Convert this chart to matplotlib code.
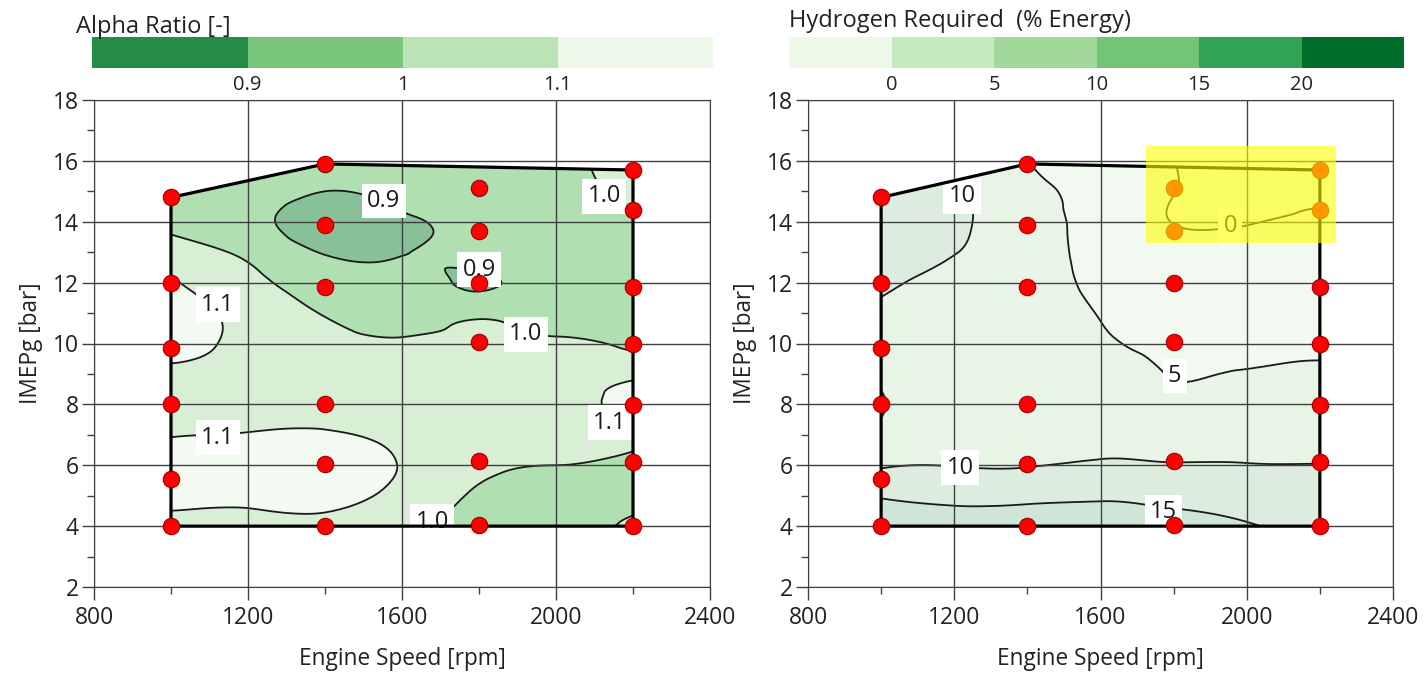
import numpy as np
import matplotlib
matplotlib.use('Agg')
from matplotlib import pyplot as plt
import matplotlib.tri as mtri
from matplotlib.colors import ListedColormap, BoundaryNorm
from matplotlib.cm import ScalarMappable
from matplotlib.patches import Polygon, Rectangle

plt.rcParams['font.family'] = ['Open Sans', 'DejaVu Sans']

# map grid
speed_grid = [1000, 1200, 1400, 1600, 1800, 2000, 2200]
imep_grid = [4, 5, 6, 7, 8, 9, 10, 11, 12, 13, 14, 15, 16]

# rows = imep 4..16, cols = speed 1000..2200
alpha_ratio = [
    [1.06, 1.07, 1.07, 1.02, 0.97, 0.96, 1.02],
    [1.13, 1.12, 1.13, 1.07, 0.99, 0.975, 0.97],
    [1.14, 1.14, 1.15, 1.095, 1.02, 1.00, 0.98],
    [1.095, 1.105, 1.11, 1.08, 1.05, 1.05, 1.04],
    [1.05, 1.06, 1.07, 1.06, 1.06, 1.08, 1.13],
    [1.08, 1.07, 1.05, 1.04, 1.05, 1.05, 1.08],
    [1.13, 1.08, 1.03, 1.01, 1.02, 1.01, 0.98],
    [1.13, 1.07, 0.995, 0.97, 0.98, 0.97, 0.96],
    [1.11, 1.03, 0.95, 0.94, 0.89, 0.95, 0.96],
    [1.04, 0.98, 0.895, 0.895, 0.94, 0.95, 0.97],
    [0.98, 0.93, 0.86, 0.89, 0.93, 0.96, 0.995],
    [0.97, 0.95, 0.90, 0.92, 0.94, 0.97, 1.02],
    [0.97, 0.96, 0.93, 0.94, 0.95, 0.98, 1.03],
]

hydrogen = [
    [20.5, 18.0, 17.5, 17.0, 16.2, 15.3, 13.5],
    [14.5, 13.5, 13.8, 14.4, 13.8, 13.0, 12.0],
    [9.7, 9.9, 9.8, 10.6, 10.3, 10.2, 10.1],
    [9.5, 8.5, 8.5, 8.6, 8.0, 8.0, 8.2],
    [10.2, 8.0, 8.0, 7.6, 5.9, 6.6, 7.0],
    [9.6, 8.0, 7.8, 6.8, 4.9, 5.2, 5.5],
    [9.3, 8.2, 7.8, 5.6, 4.3, 4.2, 4.5],
    [9.6, 8.6, 7.8, 4.8, 3.6, 3.5, 3.6],
    [10.4, 9.3, 7.8, 3.8, 3.0, 2.8, 2.8],
    [11.0, 10.1, 7.5, 3.5, 2.0, 1.5, 1.8],
    [11.5, 10.8, 7.0, 3.5, -0.1, -0.2, 0.8],
    [12.0, 11.0, 6.2, 3.8, 0.1, -1.0, -0.8],
    [12.0, 11.0, 5.0, 4.2, 0.1, -1.0, -1.2],
]

# measured operating points
point_speed = [1000, 1400, 2200, 1800, 2200, 1400, 1800, 1000, 1400, 1800, 2200, 1000, 1800,
               2200, 1000, 1400, 2200, 1000, 1400, 1800, 2200, 1000, 1400, 1800, 2200]
point_imep = [14.8, 15.9, 15.7, 15.1, 14.4, 13.9, 13.7, 12.0, 11.85, 12.0, 11.85, 9.85, 10.05,
              10.0, 8.0, 8.0, 7.97, 5.55, 6.05, 6.15, 6.1, 4.0, 4.0, 4.05, 4.0]

# operating envelope
boundary_speed = [1000, 1400, 2200, 2200, 1000]
boundary_imep = [14.8, 15.9, 15.7, 4.0, 4.0]

alpha_levels = [0.9, 1.0, 1.1]
alpha_bar_colors = ['#248c46', '#78c679', '#bae4b6', '#edf7ea']
alpha_fill_colors = ['#88c09a', '#b0dfb2', '#d8efd5', '#f3faf2']
alpha_label_vals = [0.9, 0.9, 1.0, 1.1, 1.0, 1.1, 1.1, 1.0]
alpha_label_pos = [(1553, 14.69), (1800, 12.43), (2125, 14.83), (1121, 11.28),
                   (1922, 10.3), (1121, 6.91), (2140, 7.4), (1678, 4.15)]

h2_levels = [0, 5, 10, 15, 20]
h2_bar_colors = ['#edf8e9', '#c7e9c0', '#a1d99b', '#74c476', '#31a354', '#006d2c']
h2_fill_colors = ['#f5fbf3', '#f2f9f1', '#e8f4e6', '#dcede0', '#cfe6d7', '#bcd9c6']
h2_label_vals = [10, 5, 0, 10, 15]
h2_label_pos = [(1221, 14.83), (1803, 8.93), (1955, 13.85), (1216, 5.92), (1772, 4.45)]

X, Y = np.meshgrid(speed_grid, imep_grid)
tri = mtri.Triangulation(X.ravel(), Y.ravel())
refiner = mtri.UniformTriRefiner(tri)

fig = plt.figure(figsize=(14.27, 6.85), dpi=100)
W, H = 1427.0, 685.0


def draw_map(ax, z, levels, fills, label_vals, label_pos, fmt):
    tri_f, z_f = refiner.refine_field(np.array(z).ravel(), subdiv=4)
    clip = Polygon(np.column_stack([boundary_speed, boundary_imep]), closed=True,
                   transform=ax.transData)
    cf = ax.tricontourf(tri_f, z_f, levels=levels, colors=fills, extend='both', zorder=1)
    cl = ax.tricontour(tri_f, z_f, levels=levels, colors='#1a1a1a', linewidths=1.3, zorder=2)
    cf.set_clip_path(clip)
    cl.set_clip_path(clip)
    ax.add_patch(Polygon(np.column_stack([boundary_speed, boundary_imep]), closed=True,
                         fill=False, edgecolor='black', lw=2.3, zorder=3))
    for v, (x, y) in zip(label_vals, label_pos):
        ax.text(x, y, fmt % v, ha='center', va='center', fontsize=17, color='#1a1a1a',
                bbox=dict(boxstyle='square,pad=0.22', fc='white', ec='none'), zorder=2.7)
    ax.scatter(point_speed, point_imep, s=140, c='#ff0000', edgecolors='#a00000',
               linewidths=0.8, zorder=4, clip_on=False)

    ax.set_xlim(800, 2400)
    ax.set_ylim(2, 18)
    ax.set_xticks([800, 1200, 1600, 2000, 2400])
    ax.set_xticks([1000, 1400, 1800, 2200], minor=True)
    ax.set_yticks(range(2, 19, 2))
    ax.set_yticks(range(3, 18, 2), minor=True)
    ax.set_axisbelow(False)
    ax.grid(True, which='major', color='#404040', lw=1.0)
    for s in ax.spines.values():
        s.set_color('#404040')
    ax.tick_params(which='major', length=9, width=1.0, color='#404040',
                   labelsize=16.5, labelcolor='#222222')
    ax.tick_params(which='minor', length=5, width=1.0, color='#404040')
    ax.tick_params(axis='x', pad=5)
    ax.tick_params(axis='y', pad=2)
    ax.set_xlabel('Engine Speed [rpm]', fontsize=16.3, color='#222222', labelpad=12)
    ax.set_ylabel('IMEPg [bar]', fontsize=16.3, color='#222222', labelpad=7)


def draw_bar(cax, colors, levels, tick_labels):
    cmap = ListedColormap(colors)
    bounds = [levels[0] - (levels[1] - levels[0])] + levels + [levels[-1] + (levels[1] - levels[0])]
    norm = BoundaryNorm(bounds, cmap.N)
    cb = fig.colorbar(ScalarMappable(norm=norm, cmap=cmap), cax=cax, orientation='horizontal')
    cb.set_ticks(levels)
    cb.set_ticklabels(tick_labels)
    cb.outline.set_visible(False)
    cax.minorticks_off()
    cax.tick_params(which='both', length=0, labelsize=14.5, pad=5, labelcolor='#222222')


ax1 = fig.add_axes([94 / W, 98 / H, 616 / W, 487 / H])
ax2 = fig.add_axes([808 / W, 98 / H, 585 / W, 487 / H])
cax1 = fig.add_axes([92.5 / W, 617 / H, 620 / W, 31 / H])
cax2 = fig.add_axes([789 / W, 617 / H, 615 / W, 31 / H])

draw_map(ax1, alpha_ratio, alpha_levels, alpha_fill_colors, alpha_label_vals, alpha_label_pos, '%.1f')
draw_map(ax2, hydrogen, h2_levels, h2_fill_colors, h2_label_vals, h2_label_pos, '%d')

# highlighted zero-hydrogen corner
ax2.add_patch(Rectangle((1725, 13.3), 520, 3.2, facecolor='yellow', edgecolor='none',
                        alpha=0.6, zorder=5))

draw_bar(cax1, alpha_bar_colors, alpha_levels, ['0.9', '1', '1.1'])
draw_bar(cax2, h2_bar_colors, h2_levels, ['0', '5', '10', '15', '20'])

fig.text(76 / W, 1 - 33 / H, 'Alpha Ratio [-]', fontsize=17, color='#222222', ha='left', va='baseline')
fig.text(789 / W, 1 - 27 / H, 'Hydrogen Required  (% Energy)', fontsize=17, color='#222222',
         ha='left', va='baseline')

fig.savefig('out.png', dpi=100)
